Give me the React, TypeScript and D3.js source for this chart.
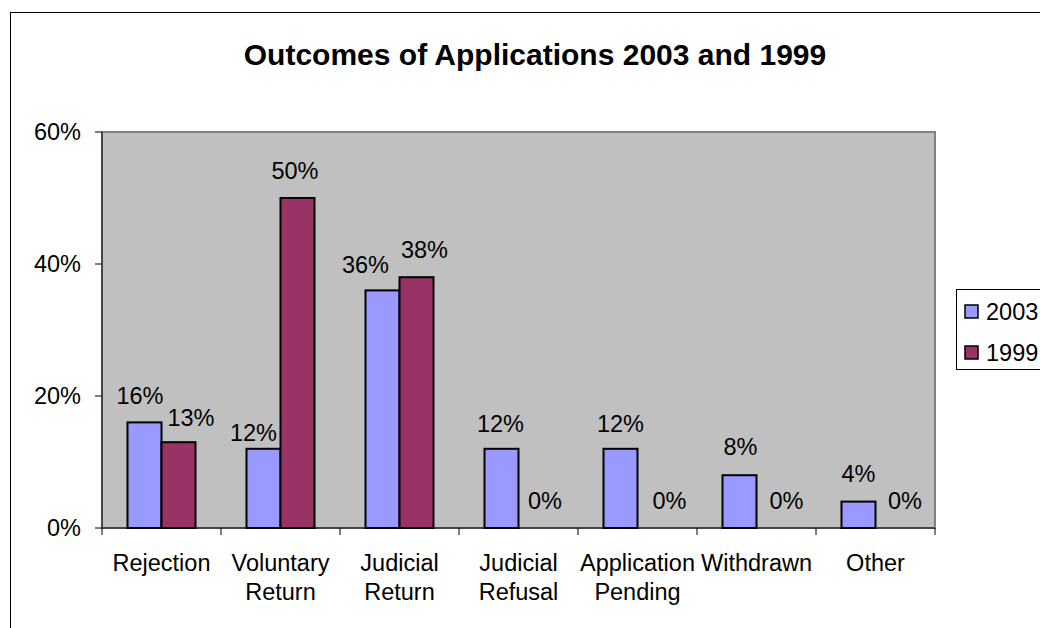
import React from "react";
import * as d3 from "d3";

const categories = ["Rejection", "Voluntary Return", "Judicial Return", "Judicial Refusal", "Application Pending", "Withdrawn", "Other"];
const series = ["2003", "1999"];
const values2003 = [0.16, 0.12, 0.36, 0.12, 0.12, 0.08, 0.04];
const values1999 = [0.13, 0.50, 0.38, 0.0, 0.0, 0.0, 0.0];
const yTicks = [0, 0.2, 0.4, 0.6];
const colors = ["#9999FF", "#993366"];
const title = "Outcomes of Applications 2003 and 1999";

// manual label nudges (styling), as placed in the original chart
const labelNudge = [
  { dx: [-4.5, -10, -17, -1, 0, 1, 0], dy: [0, 10, 1, 1, 1, -2, -2] },
  { dx: [12.5, -2.5, 8, 9.5, 15, 13, 12.5], dy: [2, -1, -1, -1, -1, -1, -1] },
];

export default function App() {
  const W = 1040, H = 628;
  const left = 102, right = 935, top = 132, bottom = 528;
  const font = "Arial, 'Liberation Sans', sans-serif";
  const fs = 23.5;
  const x0 = d3.scaleBand<string>().domain(categories).range([left, right]).paddingInner(0).paddingOuter(0);
  const bw = x0.bandwidth() / 3.5;
  const x1 = d3.scaleBand<string>().domain(series).range([bw * 0.75, bw * 2.75]);
  const y = d3.scaleLinear().domain([0, 0.6]).range([bottom, top]);
  const fmt = d3.format(".0%");
  const data = [values2003, values1999];

  return (
    <svg width={W} height={H} style={{ position: "absolute", left: 0, top: 0 }} fontFamily={font}>
      <rect x={0} y={0} width={W} height={H} fill="#fff" />
      <rect x={10.5} y={12.5} width={1200} height={800} fill="#fff" stroke="#000" strokeWidth={1} />
      <text x={535} y={65} textAnchor="middle" fontSize={30} fontWeight="bold">{title}</text>
      <rect x={left} y={top} width={right - left} height={bottom - top} fill="#C0C0C0" stroke="#808080" strokeWidth={2} />
      {yTicks.map((t) => (
        <g key={t}>
          <line x1={left - 7} x2={left} y1={y(t)} y2={y(t)} stroke="#000" />
          <text x={81} y={y(t)} dy="0.35em" textAnchor="end" fontSize={fs}>{fmt(t)}</text>
        </g>
      ))}
      <line x1={left} x2={left} y1={top} y2={bottom} stroke="#333" strokeWidth={1.5} />
      <line x1={left} x2={right} y1={bottom} y2={bottom} stroke="#333" strokeWidth={1.5} />
      {categories.map((c, i) => (
        <line key={"t" + i} x1={x0(c)!} x2={x0(c)!} y1={bottom} y2={bottom + 7} stroke="#000" />
      ))}
      <line x1={right} x2={right} y1={bottom} y2={bottom + 7} stroke="#000" />
      {categories.map((c) => {
        const lines = c.split(" ");
        const cx = x0(c)! + x0.bandwidth() / 2;
        return (
          <text key={"l" + c} x={cx} y={571} textAnchor="middle" fontSize={fs}>
            {lines.map((ln, k) => (
              <tspan key={k} x={cx} dy={k === 0 ? 0 : 29}>{ln}</tspan>
            ))}
          </text>
        );
      })}
      {series.map((s, si) =>
        categories.map((c, i) => {
          const v = data[si][i];
          const bx = x0(c)! + x1(s)!;
          return (
            <rect key={"b" + s + c} x={bx} y={y(v)} width={x1.bandwidth()} height={bottom - y(v)} fill={colors[si]} stroke="#000" strokeWidth={2} />
          );
        })
      )}
      {series.map((s, si) =>
        categories.map((c, i) => {
          const v = data[si][i];
          const bx = x0(c)! + x1(s)!;
          return (
            <text key={"v" + s + c} x={bx + x1.bandwidth() / 2 + labelNudge[si].dx[i]} y={y(v) - 18 + labelNudge[si].dy[i]} textAnchor="middle" fontSize={fs}>{fmt(v)}</text>
          );
        })
      )}
      <rect x={956.5} y={289.5} width={120} height={80} fill="#fff" stroke="#000" />
      {series.map((s, si) => (
        <g key={"lg" + s}>
          <rect x={965} y={305 + si * 41} width={13} height={13} fill={colors[si]} stroke="#000" strokeWidth={1.5} />
          <text x={986} y={312 + si * 41} dy="0.35em" fontSize={fs}>{s}</text>
        </g>
      ))}
    </svg>
  );
}
